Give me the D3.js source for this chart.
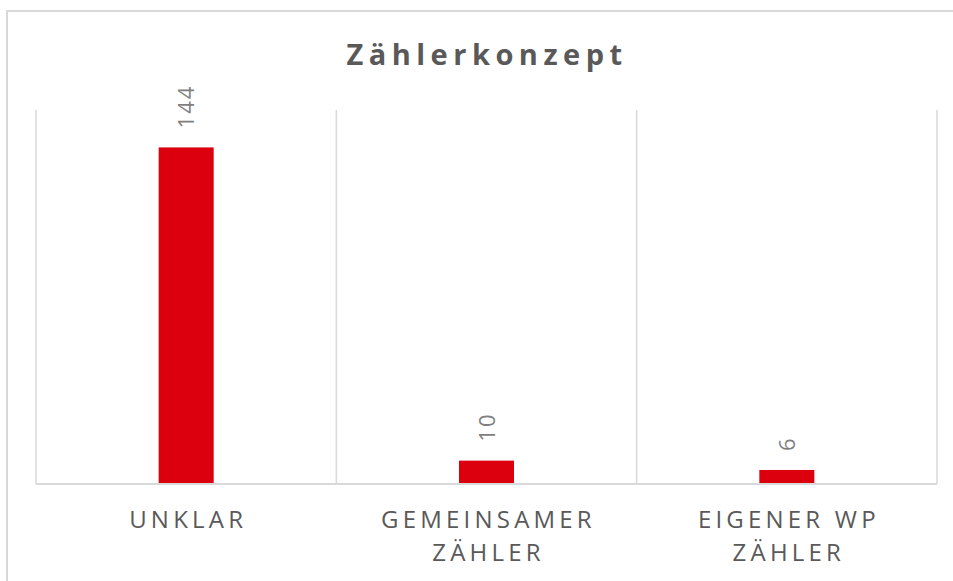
<!DOCTYPE html>
<html>
<head>
<meta charset="utf-8">
<script src="https://cdn.jsdelivr.net/npm/d3@7"></script>
<style>
  body { margin: 0; background: #fff; }
  svg { display: block; }
  text { font-family: "Open Sans", "Noto Sans", sans-serif; }
</style>
</head>
<body>
<div id="chart"></div>
<script>
// chart data
var categories = ["UNKLAR", "GEMEINSAMER ZÄHLER", "EIGENER WP ZÄHLER"];
var labelLines = [["UNKLAR"], ["GEMEINSAMER", "ZÄHLER"], ["EIGENER WP", "ZÄHLER"]];
var values = [144, 10, 6];
var yMaxValue = 160;

var width = 953;
var height = 581;

// plot box
var plotLeft = 36, plotRight = 937, plotTop = 110, plotBottom = 484;

var svg = d3.select("#chart")
  .append("svg")
  .attr("width", width)
  .attr("height", height);

// outer border (runs off the right / bottom edge)
svg.append("path")
  .attr("d", "M7,581 L7,11 L953,11")
  .attr("fill", "none")
  .attr("stroke", "#d9d9d9")
  .attr("stroke-width", 2);

// title
svg.append("text")
  .attr("x", 487)
  .attr("y", 65)
  .attr("text-anchor", "middle")
  .attr("font-size", 29)
  .attr("font-weight", "bold")
  .attr("letter-spacing", 5.5)
  .attr("fill", "#595959")
  .text("Zählerkonzept");

var xScale = d3.scaleBand()
  .domain(categories)
  .range([plotLeft, plotRight]);

var yScale = d3.scaleLinear()
  .domain([0, yMaxValue])
  .range([plotBottom, plotTop]);

// vertical category separators
var edges = categories.map(function(c) { return xScale(c); });
edges.push(plotRight);
svg.selectAll("line.grid")
  .data(edges)
  .enter()
  .append("line")
  .attr("class", "grid")
  .attr("x1", function(d) { return d; })
  .attr("x2", function(d) { return d; })
  .attr("y1", plotTop)
  .attr("y2", plotBottom)
  .attr("stroke", "#d9d9d9")
  .attr("stroke-width", 1.5);

// bars
var barW = 55;
svg.selectAll("rect.bar")
  .data(values)
  .enter()
  .append("rect")
  .attr("class", "bar")
  .attr("x", function(d, i) { return xScale(categories[i]) + xScale.bandwidth() / 2 - barW / 2; })
  .attr("y", function(d) { return yScale(d); })
  .attr("width", barW)
  .attr("height", function(d) { return plotBottom - yScale(d); })
  .attr("fill", "#dc000f");

// axis line
svg.append("line")
  .attr("x1", plotLeft)
  .attr("x2", plotRight)
  .attr("y1", plotBottom)
  .attr("y2", plotBottom)
  .attr("stroke", "#d9d9d9")
  .attr("stroke-width", 2);

// value labels (rotated)
svg.selectAll("text.val")
  .data(values)
  .enter()
  .append("text")
  .attr("class", "val")
  .attr("transform", function(d, i) {
    var cx = xScale(categories[i]) + xScale.bandwidth() / 2;
    return "translate(" + (cx + 8) + "," + (yScale(d) - 19) + ") rotate(-90)";
  })
  .attr("font-size", 22)
  .attr("letter-spacing", 2)
  .attr("fill", "#7f7f7f")
  .text(function(d) { return d; });

// category labels
var catText = svg.selectAll("text.cat")
  .data(categories)
  .enter()
  .append("text")
  .attr("class", "cat")
  .attr("text-anchor", "middle")
  .attr("font-size", 24)
  .attr("letter-spacing", 4.2)
  .attr("fill", "#595959");

catText.each(function(c, i) {
  var t = d3.select(this);
  labelLines[i].forEach(function(line, j) {
    t.append("tspan")
      .attr("x", xScale(c) + xScale.bandwidth() / 2 + 2)
      .attr("y", 528 + j * 33)
      .text(line);
  });
});
</script>
</body>
</html>
